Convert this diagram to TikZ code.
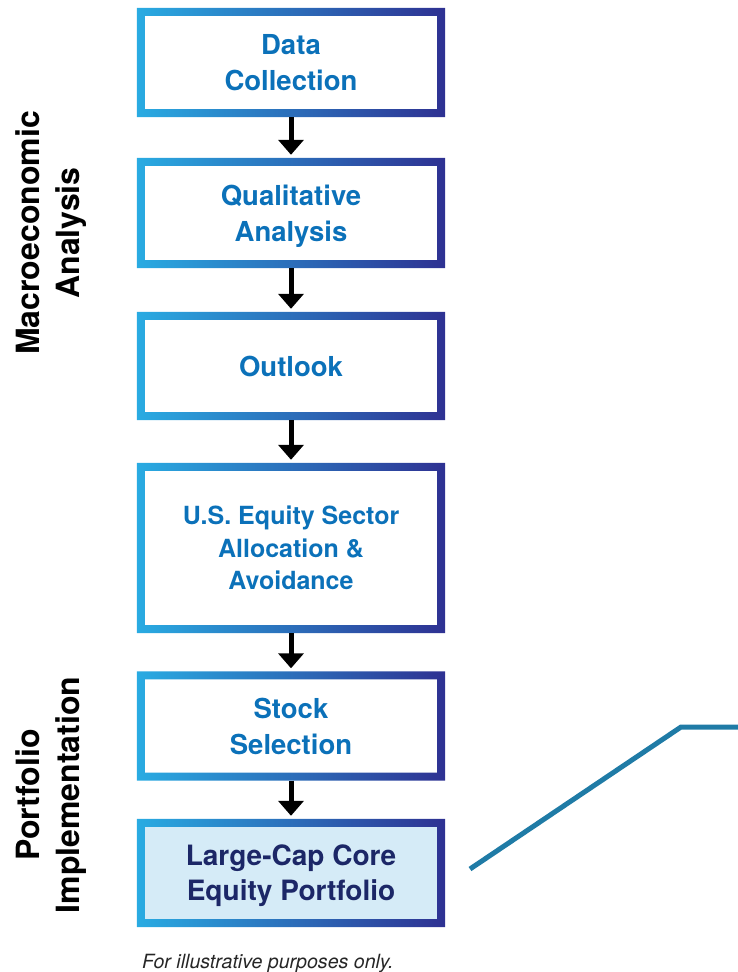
\documentclass[tikz,border=0pt]{standalone}
\usepackage{fontspec}
\setmainfont{TeX Gyre Heros}
\usetikzlibrary{arrows.meta}
\definecolor{gA}{HTML}{29ABE2}
\definecolor{gM}{HTML}{2C82C4}
\definecolor{gB}{HTML}{2E3192}
\definecolor{txtblue}{HTML}{0B71B9}
\definecolor{navytxt}{HTML}{1C2767}
\definecolor{lightfill}{HTML}{D5EBF7}
\definecolor{lineteal}{HTML}{1F7BA6}
\newcommand\gframe[1]{\shade[left color=gA, middle color=gM, right color=gB, even odd rule]
  (#1.north west) rectangle (#1.south east)
  ([xshift=8pt,yshift=-8pt]#1.north west) rectangle ([xshift=-8pt,yshift=8pt]#1.south east);}
\begin{document}
\begin{tikzpicture}[x=1pt,y=-1pt,
  stepbox/.style={minimum width=308pt, inner sep=0pt, text depth=0pt, align=center, text=txtblue,
    font=\bfseries\fontsize{27.5}{36}\selectfont},
  sidelabel/.style={rotate=90, align=center, text=black, font=\bfseries\fontsize{32}{40}\selectfont},
  flowarrow/.style={draw=black, line width=5pt, -{Triangle[width=25pt,length=15pt]}, shorten >=3pt}]
\useasboundingbox (0,0) rectangle (738,972);

\node[stepbox, minimum height=109pt] (b1) at (291,62.5) {Data\\Collection};
\node[stepbox, minimum height=110pt] (b2) at (291,213) {Qualitative\\Analysis};
\node[stepbox, minimum height=108pt] (b3) at (291,366) {Outlook};
\node[stepbox, minimum height=170pt, font=\bfseries\fontsize{25}{32.5}\selectfont] (b4) at (291,548) {U.S. Equity Sector\\Allocation \&\\Avoidance};
\node[stepbox, minimum height=109pt] (b5) at (291,726) {Stock\\Selection};
\node[stepbox, minimum height=108pt, fill=lightfill, text=navytxt, font=\bfseries\fontsize{28}{35}\selectfont] (b6) at (291,873) {Large-Cap Core\\Equity Portfolio};

\gframe{b1}\gframe{b2}\gframe{b3}\gframe{b4}\gframe{b5}\gframe{b6}

\draw[flowarrow] (b1.south) -- (b2.north);
\draw[flowarrow] (b2.south) -- (b3.north);
\draw[flowarrow] (b3.south) -- (b4.north);
\draw[flowarrow] (b4.south) -- (b5.north);
\draw[flowarrow] (b5.south) -- (b6.north);

\node[sidelabel] (macro) at (51,233) {Macroeconomic\\Analysis};
\node[sidelabel] (port) at (51,795) {Portfolio\\Implementation};

\coordinate (l0) at (470,869);
\coordinate (l1) at (681,727);
\coordinate (l2) at (745,727);
\draw[lineteal, line width=5pt] (l0) -- (l1) -- (l2);

\node[anchor=base west, inner sep=0pt, text=black!85, font=\itshape\fontsize{19.6}{22}\selectfont] (note) at (142,968) {For illustrative purposes only.};
\end{tikzpicture}
\end{document}
